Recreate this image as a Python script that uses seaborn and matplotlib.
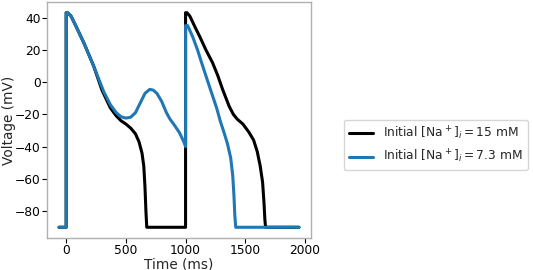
import pandas as pd
import matplotlib
matplotlib.use("Agg")
import matplotlib.pyplot as plt
import seaborn as sns

t_na15 = [-60, 0, 0, 12, 40, 80, 150, 230, 300, 370, 420, 460, 500, 540, 580,
          610, 635, 650, 660, 668, 675, 1000, 1000, 1012, 1035, 1080, 1120, 1170,
          1226, 1270, 1310, 1365, 1400, 1433, 1480, 1530, 1570, 1600, 1625, 1645,
          1657, 1664, 1670, 1950]
v_na15 = [-90, -90, 43, 43, 41, 35, 24, 10, -5, -16, -21, -24, -26, -28.5, -32,
          -37, -44, -52, -65, -80, -90, -90, 43, 43, 41, 34, 28, 20,
          12, 4, -4.5, -15, -20, -23, -26, -31, -36, -43, -52, -62,
          -75, -85, -90, -90]

t_na73 = [-60, 0, 0, 12, 40, 80, 150, 230, 315, 370, 420, 460, 500, 540, 580,
          620, 660, 700, 730, 760, 800, 840, 870, 900, 950, 985, 1000, 1000, 1017,
          1030, 1060, 1100, 1143, 1190, 1226, 1260, 1290, 1323, 1350, 1378, 1395,
          1405, 1412, 1420, 1950]
v_na73 = [-90, -90, 43, 43, 41, 35, 24, 10, -6, -14, -19, -21.5, -22.3, -21.8, -19,
          -13, -7, -4.5, -5, -7, -12, -19, -23, -26, -31.5, -37, -40, 35, 35,
          33, 28, 20, 10, -0.5, -8.5, -16, -24, -31.5, -38, -47, -58,
          -70, -82, -90, -90]

labels = [r'Initial [Na$^+$]$_i = 15$ mM', r'Initial [Na$^+$]$_i = 7.3$ mM']
colors = ['black', '#1f77b4']

df = pd.concat([
    pd.DataFrame({'time': t_na15, 'voltage': v_na15, 'trace': labels[0]}),
    pd.DataFrame({'time': t_na73, 'voltage': v_na73, 'trace': labels[1]}),
], ignore_index=True)

sns.set_style('ticks')
plt.rcParams['font.family'] = ['DejaVu Sans']

fig = plt.figure(figsize=(5.33, 2.7), dpi=100)
ax = fig.add_axes([47 / 533, 32 / 270, 264 / 533, 236 / 270])

sns.lineplot(data=df, x='time', y='voltage', hue='trace', palette=colors,
             estimator=None, sort=False, linewidth=2.2, ax=ax, legend=False)

ax.set_xlabel('Time (ms)', fontsize=9.8, labelpad=0)
ax.set_ylabel('Voltage (mV)', fontsize=9.8, labelpad=-0.5)
ax.set_xticks([0, 500, 1000, 1500, 2000])
ax.set_yticks([-80, -60, -40, -20, 0, 20, 40])
ax.tick_params(labelsize=8.8, length=3.5, width=0.8, colors='black', pad=1)
for side in ['left', 'right', 'top', 'bottom']:
    ax.spines[side].set_visible(True)
    ax.spines[side].set_color('#b0b0b0')
    ax.spines[side].set_linewidth(1.0)

handles = [plt.Line2D([0], [0], color=c, lw=2.2) for c in colors]
fig.legend(handles, labels, loc='center left', bbox_to_anchor=(344 / 533, 1 - 145 / 270),
           borderaxespad=0, fontsize=8.8, frameon=True)

fig.savefig('out.png', dpi=100)
